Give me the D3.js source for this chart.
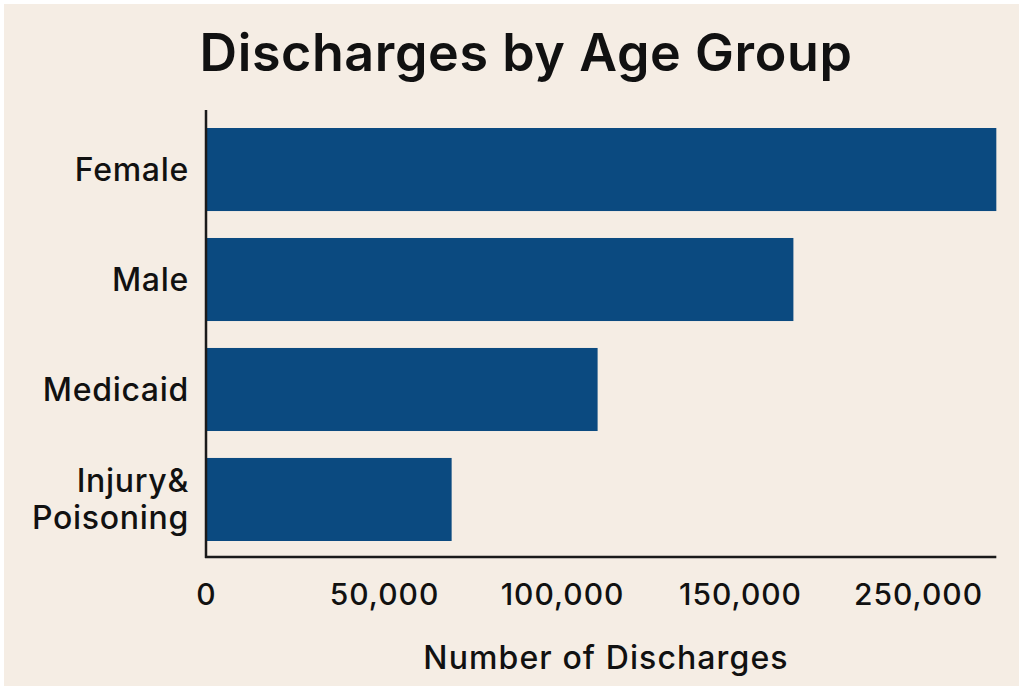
<!DOCTYPE html>
<html>
<head>
<meta charset="utf-8">
<script src="https://cdn.jsdelivr.net/npm/d3@7"></script>
<style>
  html, body { margin: 0; padding: 0; background: #ffffff; }
  svg { display: block; }
  text { font-family: Inter, "Noto Sans", sans-serif; fill: #111; }
</style>
</head>
<body>
<svg id="chart" width="1023" height="690"></svg>
<script>
const categories = ["Female", "Male", "Medicaid", "Injury&\nPoisoning"];
const values = [222000, 165000, 110000, 69000];
const tickValues = [0, 50000, 100000, 150000, 200000];
const tickLabels = ["0", "50,000", "100,000", "150,000", "250,000"];
const title = "Discharges by Age Group";
const xTitle = "Number of Discharges";

const svg = d3.select("#chart");
svg.append("rect").attr("x", 4).attr("y", 4).attr("width", 1015).attr("height", 682).attr("fill", "#f5ede4");

const axisX = 206, axisBottom = 557, axisTop = 110;
const FONT = "Inter, 'Noto Sans', sans-serif";

const x = d3.scaleLinear().domain([0, 200000]).range([axisX, 918]);
const y = d3.scaleBand().domain(categories).range([128, 541]).paddingInner(0.245).paddingOuter(0);

svg.append("text")
  .attr("x", 526).attr("y", 71)
  .attr("text-anchor", "middle")
  .attr("font-size", 52).attr("font-weight", 600)
  .attr("letter-spacing", 0.6)
  .text(title);

svg.selectAll("rect.bar").data(categories).enter().append("rect")
  .attr("class", "bar")
  .attr("x", x(0))
  .attr("y", d => y(d))
  .attr("width", (d, i) => x(values[i]) - x(0))
  .attr("height", y.bandwidth())
  .attr("fill", "#0b4a80");

// axes lines
svg.append("line").attr("x1", axisX).attr("x2", axisX).attr("y1", axisTop).attr("y2", axisBottom + 1)
  .attr("stroke", "#1a1a1a").attr("stroke-width", 2.5);
svg.append("line").attr("x1", axisX - 1).attr("x2", x(values[0])).attr("y1", axisBottom).attr("y2", axisBottom)
  .attr("stroke", "#1a1a1a").attr("stroke-width", 2.5);

// x tick labels via d3 axis
const xAxis = d3.axisBottom(x).tickValues(tickValues)
  .tickFormat((d, i) => tickLabels[i]).tickSize(0).tickPadding(0);
const gx = svg.append("g").attr("transform", `translate(0,605)`).call(xAxis);
gx.select(".domain").remove();
gx.selectAll("text")
  .attr("font-size", 30).attr("font-weight", 500).attr("letter-spacing", 1)
  .attr("fill", "#111").attr("dy", null).attr("y", 0)
  .style("font-family", FONT);

// y labels via d3 axis
const yAxis = d3.axisLeft(y).tickSize(0).tickPadding(0).tickFormat(() => "");
const gy = svg.append("g").attr("transform", `translate(${axisX - 17},0)`).call(yAxis);
gy.select(".domain").remove();
gy.selectAll(".tick").each(function(d) {
  const lines = d.split("\n");
  const t = d3.select(this).select("text")
    .attr("text-anchor", "end")
    .attr("font-size", 32).attr("font-weight", 500).attr("letter-spacing", 0.7)
    .attr("fill", "#111")
    .style("font-family", FONT)
    .attr("dy", null);
  const lh = 37;
  const start = -((lines.length - 1) * lh) / 2;
  lines.forEach((ln, k) => {
    t.append("tspan").attr("x", 0).attr("y", start + k * lh).attr("dy", "0.35em").text(ln);
  });
});

svg.append("text")
  .attr("x", 606).attr("y", 669)
  .attr("text-anchor", "middle")
  .attr("font-size", 32).attr("font-weight", 500).attr("letter-spacing", 1.1)
  .text(xTitle);
</script>
</body>
</html>
